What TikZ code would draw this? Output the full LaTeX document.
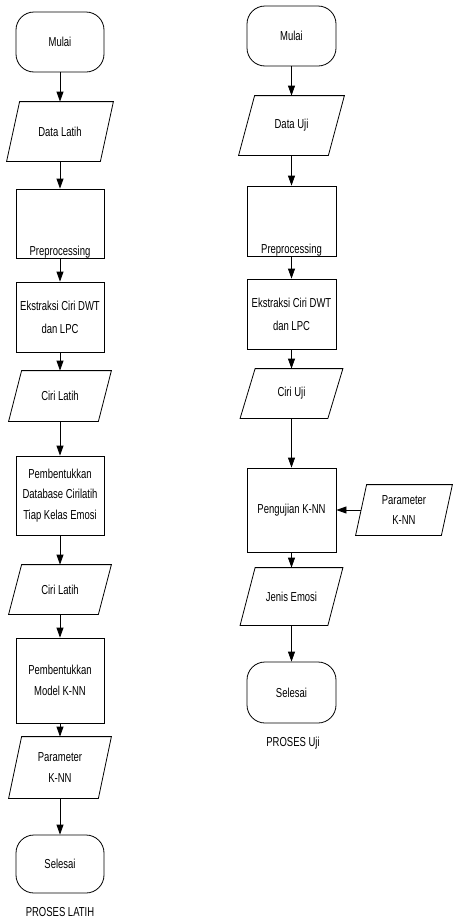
\documentclass[tikz,border=0pt]{standalone}
\usepackage{fontspec}
\setmainfont{Liberation Sans}[FakeStretch=0.73]
\usetikzlibrary{arrows.meta}
\begin{document}
\begin{tikzpicture}[x=1pt,y=-1pt,
  base/.style={font=\fontsize{13}{20.5}\selectfont, align=center, inner sep=0pt, line width=0.8pt},
  term/.style={base, draw, rounded corners=18pt, minimum width=88pt, minimum height=60pt},
  proc/.style={base, draw, minimum width=88pt},
  io/.style={base},
  captxt/.style={base},
  arr/.style={draw, line width=0.8pt, -{Triangle[length=10pt,width=7pt]}}]
\useasboundingbox (0,0) rectangle (453,924);

% ---- left column: PROSES LATIH ----
\node[term] (m1) at (60,42) {Mulai};
\node[io, minimum width=106pt, minimum height=59pt] (dl) at (60,131.5) {Data Latih};
\node[proc, minimum height=69pt, label={[base, anchor=base, yshift=2.5pt]south:Preprocessing}] (p1) at (60,223.5) {};
\node[proc, minimum height=70pt, font=\fontsize{13}{23}\selectfont] (e1) at (60,317) {Ekstraksi Ciri DWT\\dan LPC};
\node[io, minimum width=102pt, minimum height=50pt] (c1) at (60,396) {Ciri Latih};
\node[proc, minimum height=79pt] (db) at (60,495.5) {Pembentukkan\\Database Cirilatih\\Tiap Kelas Emosi};
\node[io, minimum width=102pt, minimum height=49pt] (c2) at (60,589.5) {Ciri Latih};
\node[proc, minimum height=85pt] (mk) at (60,680.5) {Pembentukkan\\Model K-NN};
\node[io, minimum width=102pt, minimum height=61pt] (pk1) at (60,767.5) {Parameter\\K-NN};
\node[term, minimum height=58pt] (s1) at (60,864) {Selesai};
\node[captxt] (t1) at (60,912) {PROSES LATIH};

% ---- right column: PROSES Uji ----
\node[term, minimum width=89pt] (m2) at (291.5,36) {Mulai};
\node[io, minimum width=105pt, minimum height=59pt] (du) at (291.5,125.5) {Data Uji};
\node[proc, minimum width=89pt, minimum height=70pt, label={[base, anchor=base, yshift=2.5pt]south:Preprocessing}] (p2) at (291.5,221) {};
\node[proc, minimum width=89pt, minimum height=70pt, font=\fontsize{13}{23}\selectfont] (e2) at (291.5,314) {Ekstraksi Ciri DWT\\dan LPC};
\node[io, minimum width=102pt, minimum height=49pt] (cu) at (291.5,393.5) {Ciri Uji};
\node[proc, minimum width=89pt, minimum height=84pt] (pg) at (291.5,510) {Pengujian K-NN};
\node[io, minimum width=102pt, minimum height=57pt] (je) at (291.5,596.5) {Jenis Emosi};
\node[term, minimum width=89pt, minimum height=61pt] (s2) at (291.5,692.5) {Selesai};
\node[captxt] (t2) at (293,743) {PROSES Uji};
\node[io, minimum width=96pt, minimum height=50pt] (pk2) at (404,510) {Parameter\\K-NN};

% parallelogram outlines
\foreach \n/\s in {dl/13, c1/13, c2/13, pk1/13, du/16, cu/15, je/15, pk2/11}
  \draw[line width=0.8pt] (\n.south west) -- ([xshift=-\s pt]\n.south east) -- (\n.north east) -- ([xshift=\s pt]\n.north west) -- cycle;

% connectors
\draw[arr] (m1) -- (dl);
\draw[arr] (dl) -- (p1);
\draw[arr] (p1) -- (e1);
\draw[arr] (e1) -- (c1);
\draw[arr] (c1) -- (db);
\draw[arr] (db) -- (c2);
\draw[arr] (c2) -- (mk);
\draw[arr] (mk) -- (pk1);
\draw[arr] (pk1) -- (s1);

\draw[arr] (m2) -- (du);
\draw[arr] (du) -- (p2);
\draw[arr] (p2) -- (e2);
\draw[arr] (e2) -- (cu);
\draw[arr] (cu) -- (pg);
\draw[arr] (pg) -- (je);
\draw[arr] (je) -- (s2);
\draw[arr] ([xshift=5.5pt]pk2.west) -- (pg.east);
\end{tikzpicture}
\end{document}
